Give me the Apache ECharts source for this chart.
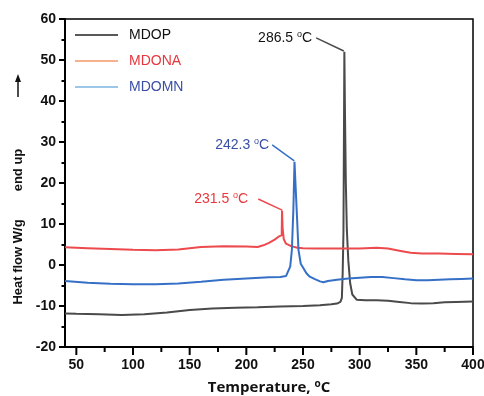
<!DOCTYPE html>
<html>
<head>
<meta charset="utf-8">
<script src="https://cdn.jsdelivr.net/npm/echarts@6/dist/echarts.min.js"></script>
<style>
  html, body { margin: 0; padding: 0; background: #fff; }
  #chart { width: 484px; height: 396px; }
</style>
</head>
<body>
<div id="chart"></div>
<script>
// x axis tick labels (temperature, °C) and minor tick positions
const xTicks = [50, 100, 150, 200, 250, 300, 350, 400]
const xMinorTicks = [75, 125, 175, 225, 275, 325, 375]

// MDOP (black curve)
const mdopT = [40, 50, 70, 90, 110, 130, 150, 170, 190, 210, 230, 250, 265, 275, 280, 283, 284.3, 285, 285.7, 286.2, 286.5, 287, 287.8, 288.7, 290, 291.6, 293.5, 297.5, 305, 315, 325, 335, 345, 355, 365, 375, 385, 400]
const mdopV = [-11.8, -11.9, -12.0, -12.2, -12.0, -11.6, -11.0, -10.6, -10.4, -10.3, -10.1, -10.0, -9.8, -9.6, -9.4, -9.0, -8.0, -2, 8, 35, 52, 38, 20, 8.5, 1, -4.4, -7.2, -8.5, -8.6, -8.6, -8.7, -9.0, -9.3, -9.4, -9.3, -9.1, -9.0, -8.9]

// MDONA (red curve)
const mdonaT = [40, 60, 80, 100, 120, 140, 160, 180, 200, 210, 215, 220, 225, 229, 231.2, 231.5, 232, 233, 235, 239.5, 245, 250, 260, 280, 300, 315, 325, 335, 345, 355, 370, 385, 400]
const mdonaV = [4.3, 4.1, 3.9, 3.7, 3.6, 3.8, 4.4, 4.6, 4.5, 4.4, 4.8, 5.4, 6.2, 7.0, 7.3, 13.3, 9, 6.3, 5.2, 4.6, 4.2, 4.1, 4.0, 4.0, 4.0, 4.2, 4.0, 3.5, 3.0, 2.8, 2.8, 2.7, 2.6]

// MDOMN (blue curve)
const mdomnT = [40, 60, 80, 100, 120, 140, 160, 180, 200, 220, 230, 235, 238.7, 240.2, 241.5, 242.5, 243.5, 244.5, 246, 248, 250.4, 253, 256, 260, 265, 268, 272, 280, 290, 300, 310, 320, 330, 340, 350, 360, 370, 380, 390, 400]
const mdomnV = [-3.9, -4.3, -4.6, -4.7, -4.7, -4.5, -4.1, -3.6, -3.3, -3.0, -2.9, -2.7, -0.4, 3.7, 13.5, 25.2, 19, 13, 3.7, 0.3, -0.8, -2.0, -2.85, -3.4, -4.0, -4.2, -3.9, -3.6, -3.3, -3.1, -2.9, -2.9, -3.2, -3.5, -3.7, -3.7, -3.6, -3.5, -3.4, -3.3]

// peak annotations: [label, leader start T, leader start V, leader end T, leader end V]
const peakLabels = {
  MDOP: ['286.5', 261.6, 55.4, 286.0, 52.2],
  MDONA: ['231.5', 210.5, 16.1, 231.6, 13.4],
  MDOMN: ['242.3', 222.8, 29.3, 242.3, 25.4]
}

const zip = (xs, ys) => xs.map((x, i) => [x, ys[i]])

const seriesFac = (name, xs, ys, color, textColor, labelGap) => {
  const p = peakLabels[name]
  return {
    name,
    type: 'line',
    data: zip(xs, ys),
    showSymbol: false,
    symbol: 'none',
    lineStyle: { color, width: 2 },
    itemStyle: { color },
    animation: false,
    markLine: {
      silent: true,
      symbol: ['none', 'none'],
      label: { show: false },
      lineStyle: { color, width: 1.5, type: 'solid' },
      data: [[{ coord: [p[1], p[2]] }, { coord: [p[3], p[4]] }]]
    },
    markPoint: {
      silent: true,
      symbol: 'circle',
      symbolSize: 0,
      data: [{
        coord: [p[1], p[2]],
        label: {
          show: true,
          position: 'left',
          distance: labelGap,
          formatter: '{a|' + p[0] + ' }{s|o}{a|C}',
          rich: {
            a: { fontSize: 14, color: textColor, fontFamily: 'Liberation Sans', lineHeight: 16 },
            s: { fontSize: 9, color: textColor, fontFamily: 'Liberation Sans', verticalAlign: 'top', lineHeight: 16 }
          }
        }
      }]
    }
  }
}

const tickStyle = { color: '#000', width: 2 }

// x ticks as a hidden scatter-free helper: short vertical bars below the axis,
// positioned by the x scale through a custom series
const tickRows = xTicks.map((v) => [v, 7]).concat(xMinorTicks.map((v) => [v, 4]))

const option = {
  backgroundColor: '#fff',
  animation: false,
  grid: {
    left: 65,
    right: 11,
    top: 19,
    bottom: 49,
    show: true,
    borderColor: '#000',
    borderWidth: 1.5,
    containLabel: false,
    outerBoundsMode: 'none'
  },
  legend: {
    orient: 'vertical',
    left: 75,
    top: 28,
    padding: 0,
    icon: 'rect',
    itemWidth: 43,
    itemHeight: 1.5,
    itemGap: 12,
    textStyle: { fontSize: 14, fontFamily: 'Liberation Sans', padding: [0, 0, 0, 6] },
    data: [
      { name: 'MDOP', itemStyle: { color: '#222' }, textStyle: { color: '#111' } },
      { name: 'MDONA', itemStyle: { color: '#f3976a' }, textStyle: { color: '#e8373c' } },
      { name: 'MDOMN', itemStyle: { color: '#7db4e2' }, textStyle: { color: '#3a4ea6' } }
    ]
  },
  xAxis: {
    type: 'value',
    min: 40,
    max: 400,
    name: '{t|Temperature, }{s|o}{t|C}',
    nameLocation: 'middle',
    nameGap: 32,
    nameTextStyle: {
      rich: {
        t: { fontSize: 15, fontWeight: 'bold', fontFamily: 'Open Sans', color: '#111', lineHeight: 18 },
        s: { fontSize: 10, fontWeight: 'bold', fontFamily: 'Open Sans', color: '#111', verticalAlign: 'top', lineHeight: 18 }
      }
    },
    axisLine: { show: true, onZero: false, lineStyle: { color: '#000', width: 2 } },
    axisTick: { show: false },
    axisLabel: {
      customValues: xTicks,
      margin: 11,
      fontSize: 14,
      fontWeight: 'bold',
      fontFamily: 'Liberation Sans',
      color: '#111'
    },
    splitLine: { show: false }
  },
  yAxis: {
    type: 'value',
    min: -20,
    max: 60,
    interval: 10,
    axisLine: { show: true, onZero: false, lineStyle: { color: '#000', width: 2 } },
    axisTick: { show: true, length: 6, lineStyle: tickStyle },
    minorTick: { show: true, splitNumber: 2, length: 3.5, lineStyle: tickStyle },
    axisLabel: { margin: 9, fontSize: 14, fontWeight: 'bold', fontFamily: 'Liberation Sans', color: '#111' },
    splitLine: { show: false },
    minorSplitLine: { show: false }
  },
  graphic: [
    {
      type: 'text',
      x: 18,
      y: 262,
      rotation: Math.PI / 2,
      style: { text: 'Heat flow W/g', fontSize: 13, fontWeight: 'bold', fontFamily: 'Liberation Sans', fill: '#111', align: 'center', verticalAlign: 'middle' }
    },
    {
      type: 'text',
      x: 18,
      y: 170,
      rotation: Math.PI / 2,
      style: { text: 'end up', fontSize: 13, fontWeight: 'bold', fontFamily: 'Liberation Sans', fill: '#111', align: 'center', verticalAlign: 'middle' }
    },
    // "end up" arrow pointing upwards
    {
      type: 'line',
      shape: { x1: 18, y1: 97, x2: 18, y2: 80 },
      style: { stroke: '#111', lineWidth: 1.5 }
    },
    {
      type: 'polygon',
      shape: { points: [[18, 74], [15, 82], [21, 82]] },
      style: { fill: '#111' }
    }
  ],
  series: [
    seriesFac('MDOP', mdopT, mdopV, '#4a4a4a', '#111', 4),
    seriesFac('MDONA', mdonaT, mdonaV, '#ec4a4d', '#e8373c', 10),
    seriesFac('MDOMN', mdomnT, mdomnV, '#3670c6', '#3a4ea6', 3),
    {
      // outward tick marks of the x axis, drawn below the plot box
      type: 'custom',
      silent: true,
      clip: false,
      z: 10,
      data: tickRows,
      renderItem: (params, api) => {
        const pt = api.coord([api.value(0), -20])
        const len = api.value(1)
        return {
          type: 'line',
          shape: { x1: pt[0], y1: pt[1] + 1, x2: pt[0], y2: pt[1] + 1 + len },
          style: { stroke: '#000', lineWidth: 2 }
        }
      }
    }
  ]
}

const chart = echarts.init(document.getElementById('chart'))
chart.setOption(option)
</script>
</body>
</html>
